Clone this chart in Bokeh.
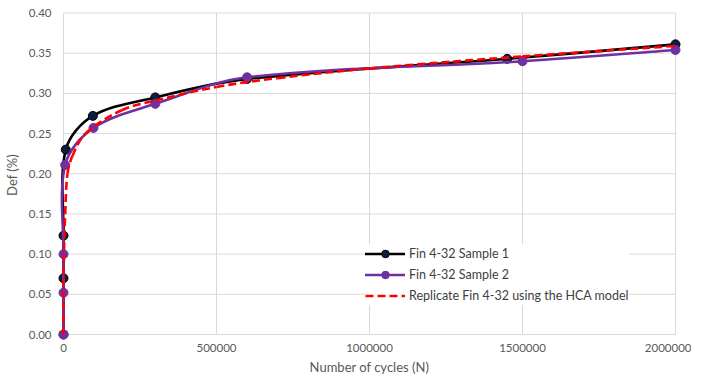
import math
from bokeh.plotting import figure
from bokeh.models import Range1d, FixedTicker, NumeralTickFormatter, Legend, LegendItem
from bokeh.embed import file_html
from bokeh.resources import INLINE

# ---- data ----
s1_n = [0, 0, 0, 7500, 96000, 300000, 600000, 1450000, 2000000]
s1_def = [0.0, 0.070, 0.123, 0.230, 0.272, 0.295, 0.318, 0.343, 0.361]

s2_n = [0, 0, 0, 5500, 98000, 300000, 600000, 1500000, 2000000]
s2_def = [0.0, 0.052, 0.100, 0.211, 0.257, 0.287, 0.320, 0.340, 0.354]

hca_n = [0, 1000, 5500, 13000, 29000, 72000, 190000, 300000, 500000,
         700000, 1000000, 1500000, 2000000]
hca_def = [0.0, 0.090, 0.150, 0.200, 0.222, 0.250, 0.279, 0.291, 0.308,
           0.319, 0.331, 0.346, 0.359]

x_ticks = [0, 500000, 1000000, 1500000, 2000000]
y_ticks = [0.00, 0.05, 0.10, 0.15, 0.20, 0.25, 0.30, 0.35, 0.40]

labels = ["Fin 4-32 Sample 1", "Fin 4-32 Sample 2",
          "Replicate Fin 4-32 using the HCA model"]

# ---- layout constants ----
X_MAX, Y_MAX = 2000000, 0.40
PLOT_W, PLOT_H = 612, 321.5          # pixels spanned by the data ranges
PX_X = PLOT_W / X_MAX
PX_Y = PLOT_H / Y_MAX
PAD_L, PAD_R, PAD_T, PAD_B = 6, 6, 3.5, 6

FONT = "Lato"
GRID = "#d9d9d9"
TXT = "#595959"


def smooth_bezier(xs, ys):
    """Excel-like smoothing: cubic Bezier pieces whose tangents are scaled by
    the neighbouring segment lengths (measured in screen pixels)."""
    n = len(xs)
    px = [x * PX_X for x in xs]
    py = [y * PX_Y for y in ys]

    def dist(i, j):
        return math.hypot(px[j] - px[i], py[j] - py[i])

    out = {k: [] for k in ("x0", "y0", "x1", "y1", "cx0", "cy0", "cx1", "cy1")}
    for i in range(n - 1):
        j = i + 1
        d = dist(i, j)
        im = max(i - 1, 0)
        dprev = dist(im, i)
        if dprev + d > 0:
            f0 = (1 / 3) * d / (dprev + d) if i > 0 else 1 / 6
        else:
            f0 = 0
        tx0, ty0 = xs[j] - xs[im], ys[j] - ys[im]
        jp = min(j + 1, n - 1)
        dnext = dist(j, jp)
        if dnext + d > 0:
            f1 = (1 / 3) * d / (d + dnext) if j < n - 1 else 1 / 6
        else:
            f1 = 0
        tx1, ty1 = xs[jp] - xs[i], ys[jp] - ys[i]
        out["x0"].append(xs[i]); out["y0"].append(ys[i])
        out["x1"].append(xs[j]); out["y1"].append(ys[j])
        out["cx0"].append(xs[i] + tx0 * f0)
        out["cy0"].append(ys[i] + ty0 * f0)
        out["cx1"].append(xs[j] - tx1 * f1)
        out["cy1"].append(ys[j] - ty1 * f1)
    return out


p = figure(
    frame_width=int(PLOT_W + PAD_L + PAD_R),
    frame_height=int(round(PLOT_H + PAD_T + PAD_B)),
    x_range=Range1d(-PAD_L / PX_X, X_MAX + PAD_R / PX_X),
    y_range=Range1d(-PAD_B / PX_Y, Y_MAX + PAD_T / PX_Y),
    output_backend="svg", toolbar_location=None,
    min_border_left=51, min_border_right=10, min_border_top=9, min_border_bottom=36,
    background_fill_color="white", border_fill_color="white",
)
p.outline_line_color = None
p.xgrid.visible = False
p.ygrid.visible = False

# grid lines, limited to the data ranges
p.segment(x0=x_ticks, x1=x_ticks, y0=[0] * len(x_ticks), y1=[Y_MAX] * len(x_ticks),
          line_color=GRID, line_width=1)
p.segment(x0=[0] * len(y_ticks), x1=[X_MAX] * len(y_ticks), y0=y_ticks, y1=y_ticks,
          line_color=GRID, line_width=1)

# axes
p.xaxis.ticker = FixedTicker(ticks=x_ticks)
p.yaxis.ticker = FixedTicker(ticks=y_ticks)
p.xaxis.formatter = NumeralTickFormatter(format="0")
p.yaxis.formatter = NumeralTickFormatter(format="0.00")
for ax in (p.xaxis[0], p.yaxis[0]):
    ax.axis_line_color = None
    ax.major_tick_line_color = None
    ax.minor_tick_line_color = None
    ax.major_tick_out = 0
    ax.major_tick_in = 0
    ax.minor_tick_out = 0
    ax.minor_tick_in = 0
    ax.major_label_text_font = FONT
    ax.major_label_text_font_size = "11.5px"
    ax.major_label_text_color = TXT
    ax.axis_label_text_font = FONT
    ax.axis_label_text_font_size = "13px"
    ax.axis_label_text_color = TXT
    ax.axis_label_text_font_style = "normal"
p.xaxis.axis_label = "Number of cycles (N)"
p.yaxis.axis_label = "Def (%)"
p.xaxis.major_label_standoff = 3
p.xaxis.axis_label_standoff = 4
p.yaxis.major_label_standoff = 6
p.yaxis.axis_label_standoff = 6

# series
c1 = smooth_bezier(s1_n, s1_def)
c2 = smooth_bezier(s2_n, s2_def)
c3 = smooth_bezier(hca_n, hca_def)

BLACK, NAVY, PURPLE, RED = "#000000", "#0e1c3f", "#7030a0", "#ff0000"
LW = 2.6
bez = dict(x0="x0", y0="y0", x1="x1", y1="y1", cx0="cx0", cy0="cy0", cx1="cx1", cy1="cy1")

b1 = p.bezier(source=c1, line_color=BLACK, line_width=LW, line_cap="round", **bez)
m1 = p.scatter(s1_n, s1_def, size=9, fill_color=NAVY, line_color=BLACK, line_width=1)
b2 = p.bezier(source=c2, line_color=PURPLE, line_width=LW, line_cap="round", **bez)
m2 = p.scatter(s2_n, s2_def, size=9, fill_color=PURPLE, line_color=PURPLE, line_width=1)
b3 = p.bezier(source=c3, line_color=RED, line_width=LW, line_dash="8 4", **bez)

legend = Legend(
    items=[LegendItem(label=labels[0], renderers=[b1, m1], index=0),
           LegendItem(label=labels[1], renderers=[b2, m2], index=0),
           LegendItem(label=labels[2], renderers=[b3], index=0)],
    location=(308, 35),
    background_fill_color="white", background_fill_alpha=1.0,
    border_line_color=None,
    label_text_font=FONT, label_text_font_size="12.5px", label_text_color="#404040",
    glyph_width=40, glyph_height=19, label_height=19, label_standoff=4,
    spacing=2, padding=3, margin=0,
)
p.add_layout(legend)

open("out.html", "w").write(file_html(p, INLINE))
